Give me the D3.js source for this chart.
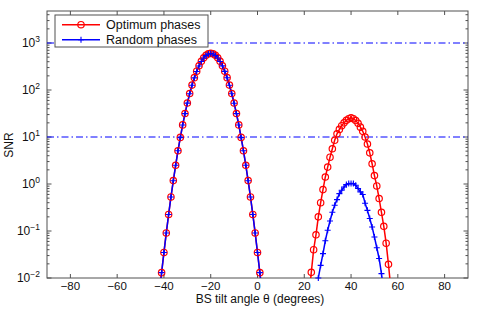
<!DOCTYPE html>
<html>
<head>
<meta charset="utf-8">
<script src="https://cdn.jsdelivr.net/npm/d3@7"></script>
<style>
body { margin: 0; background: white; }
text { font-family: "Liberation Sans", Arial, sans-serif; fill: #111; }
</style>
</head>
<body>
<script>
//properties of the screen
var widthScr = 491;
var heightScr = 311;
var plotL = 47, plotR = 468, plotT = 11, plotB = 278;
var axisColor = "#505050";

//optimum phases (degrees, SNR)
var optAngles = [-42, -41, -40, -39, -38, -37, -36, -35, -34, -33, -32, -31, -30, -29, -28, -27, -26, -25, -24, -23, -22, -21,
    -20, -19, -18, -17, -16, -15, -14, -13, -12, -11, -10, -9, -8, -7, -6, -5, -4, -3, -2, -1, 0, 1, 2,
    22, 23, 24, 25, 26, 27, 28, 29, 30, 31, 32, 33, 34, 35, 36, 37, 38, 39,
    40, 41, 42, 43, 44, 45, 46, 47, 48, 49, 50, 51, 52, 53, 54, 55, 56, 57];
var optSnr = [0.0046, 0.013, 0.035, 0.091, 0.225, 0.53, 1.18, 2.5, 5.1, 9.8, 18.1, 31.6, 52.7, 84, 127, 183, 251, 328, 408, 484, 547, 587,
    603, 587, 547, 484, 408, 328, 251, 183, 127, 84, 52.7, 31.6, 18.1, 9.8, 5.1, 2.5, 1.18, 0.53, 0.225, 0.091, 0.035, 0.013, 0.0046,
    0.004, 0.0132, 0.040, 0.083, 0.20, 0.40, 0.76, 1.41, 2.29, 3.72, 5.62, 8.5, 11.7, 14.5, 17.4, 20.0, 22.6, 24.5,
    25.7, 24.5, 22.4, 19.5, 16.2, 13.2, 10.0, 7.1, 4.6, 2.7, 1.51, 0.91, 0.49, 0.25, 0.126, 0.055, 0.0195, 0.006];

//random phases (degrees, SNR)
var randAngles = [-42, -41, -40, -39, -38, -37, -36, -35, -34, -33, -32, -31, -30, -29, -28, -27, -26, -25, -24, -23, -22, -21,
    -20, -19, -18, -17, -16, -15, -14, -13, -12, -11, -10, -9, -8, -7, -6, -5, -4, -3, -2, -1, 0, 1, 2,
    25, 26, 27, 28, 29, 30, 31, 32, 33, 34, 35, 36, 37, 38, 39,
    40, 41, 42, 43, 44, 45, 46, 47, 48, 49, 50, 51, 52, 53, 54];
var randSnr = [0.0046, 0.013, 0.035, 0.091, 0.224, 0.53, 1.17, 2.5, 5.1, 9.7, 18.0, 31.4, 52.5, 83, 126, 181, 248, 325, 404, 478, 540, 580,
    598, 582, 543, 480, 405, 326, 249, 182, 126, 83, 52.4, 31.4, 18.0, 9.7, 5.1, 2.5, 1.17, 0.53, 0.224, 0.091, 0.035, 0.013, 0.0046,
    0.005, 0.010, 0.0186, 0.033, 0.062, 0.104, 0.163, 0.25, 0.352, 0.466, 0.625, 0.735, 0.863, 0.97, 1.02,
    1.02, 1.02, 0.94, 0.80, 0.68, 0.60, 0.39, 0.275, 0.184, 0.122, 0.0745, 0.044, 0.026, 0.0124, 0.005];

//reference levels and ticks
var thresholds = [1000, 10];
var xTicks = [-80, -60, -40, -20, 0, 20, 40, 60, 80];
var yTicks = [0.01, 0.1, 1, 10, 100, 1000];
var yExponents = ["\u22122", "\u22121", "0", "1", "2", "3"];
var legendLabels = ["Optimum phases", "Random phases"];

var svg, x, y;

function start() {
    createScreen();
    createAxes();
    createLines();
    createLegend();
}

//setup canvas and scales
function createScreen() {
    svg = d3.select("body").append("svg")
        .attr("width", widthScr)
        .attr("height", heightScr);

    svg.append("rect")
        .attr("width", widthScr)
        .attr("height", heightScr)
        .attr("fill", "white");

    x = d3.scaleLinear().domain([-90, 90]).range([plotL, plotR]);
    y = d3.scaleLog().domain([0.01, Math.pow(10, 3 + 32 / 47)]).range([plotB, plotT]);

    svg.append("clipPath").attr("id", "plotClip")
        .append("rect")
        .attr("x", plotL).attr("y", plotT)
        .attr("width", plotR - plotL).attr("height", plotB - plotT);
}

//box, ticks and labels
function createAxes() {
    var g = svg.append("g");

    //major x ticks, bottom and top, pointing inward
    xTicks.forEach(function(t) {
        g.append("line").attr("x1", x(t)).attr("x2", x(t)).attr("y1", plotB).attr("y2", plotB - 4)
            .attr("stroke", axisColor);
        g.append("line").attr("x1", x(t)).attr("x2", x(t)).attr("y1", plotT).attr("y2", plotT + 4)
            .attr("stroke", axisColor);
        g.append("text")
            .attr("x", x(t))
            .attr("y", 290)
            .attr("text-anchor", "middle")
            .attr("font-size", 11.5)
            .text(t < 0 ? "\u2212" + Math.abs(t) : t);
    });

    //log y ticks: major and minor, left and right
    var minor = [];
    for (var e = -2; e < 4; e++) {
        for (var m = 2; m < 10; m++) minor.push(m * Math.pow(10, e));
    }
    minor = minor.filter(function(v) { return v < y.domain()[1]; });
    minor.forEach(function(v) {
        g.append("line").attr("x1", plotL).attr("x2", plotL + 2.5).attr("y1", y(v)).attr("y2", y(v))
            .attr("stroke", axisColor);
        g.append("line").attr("x1", plotR).attr("x2", plotR - 2.5).attr("y1", y(v)).attr("y2", y(v))
            .attr("stroke", axisColor);
    });
    yTicks.forEach(function(v, i) {
        g.append("line").attr("x1", plotL).attr("x2", plotL + 4.5).attr("y1", y(v)).attr("y2", y(v))
            .attr("stroke", axisColor);
        g.append("line").attr("x1", plotR).attr("x2", plotR - 4.5).attr("y1", y(v)).attr("y2", y(v))
            .attr("stroke", axisColor);
        var label = g.append("text")
            .attr("x", 40)
            .attr("y", y(v) + 4)
            .attr("text-anchor", "end")
            .attr("font-size", 12);
        label.append("tspan").text("10");
        label.append("tspan")
            .attr("dy", -5)
            .attr("font-size", 8.5)
            .text(yExponents[i]);
    });

    //frame
    g.append("rect")
        .attr("x", plotL).attr("y", plotT)
        .attr("width", plotR - plotL).attr("height", plotB - plotT)
        .attr("fill", "none")
        .attr("stroke", axisColor);

    g.append("text")
        .attr("x", 260)
        .attr("y", 302.5)
        .attr("text-anchor", "middle")
        .attr("font-size", 12)
        .text("BS tilt angle \u03b8 (degrees)");

    g.append("text")
        .attr("transform", "translate(13,145) rotate(-90)")
        .attr("text-anchor", "middle")
        .attr("font-size", 12)
        .text("SNR");
}

//curves, markers and dash-dot levels
function createLines() {
    var plot = svg.append("g").attr("clip-path", "url(#plotClip)");

    plot.selectAll(".level")
        .data(thresholds)
        .enter().append("line")
        .attr("class", "level")
        .attr("x1", plotL).attr("x2", plotR)
        .attr("y1", function(d) { return y(d); })
        .attr("y2", function(d) { return y(d); })
        .attr("stroke", "#0000ff")
        .attr("stroke-width", 1)
        .attr("stroke-dasharray", "7,3,1.5,3");

    var line = d3.line()
        .x(function(d) { return x(d[0]); })
        .y(function(d) { return y(d[1]); });

    var opt = d3.zip(optAngles, optSnr);
    var rand = d3.zip(randAngles, randSnr);

    plot.append("path")
        .attr("d", line(opt))
        .attr("fill", "none")
        .attr("stroke", "#ff0000")
        .attr("stroke-width", 1.5);

    svg.selectAll(".optMark")
        .data(opt.filter(function(d) { return d[1] >= 0.0099; }))
        .enter().append("circle")
        .attr("class", "optMark")
        .attr("cx", function(d) { return x(d[0]); })
        .attr("cy", function(d) { return y(d[1]); })
        .attr("r", 3.2)
        .attr("fill", "none")
        .attr("stroke", "#ff0000")
        .attr("stroke-width", 1.2);

    plot.append("path")
        .attr("d", line(rand))
        .attr("fill", "none")
        .attr("stroke", "#0000ff")
        .attr("stroke-width", 1.5);

    svg.selectAll(".randMark")
        .data(rand.filter(function(d) { return d[1] >= 0.0099; }))
        .enter().append("path")
        .attr("class", "randMark")
        .attr("transform", function(d) { return "translate(" + x(d[0]) + "," + y(d[1]) + ")"; })
        .attr("d", "M-3,0H3M0,-3V3")
        .attr("stroke", "#0000ff")
        .attr("stroke-width", 1.1);
}

//legend box in the upper left corner
function createLegend() {
    var lg = svg.append("g");
    lg.append("rect")
        .attr("x", 55).attr("y", 15)
        .attr("width", 153).attr("height", 32)
        .attr("fill", "white")
        .attr("stroke", axisColor);

    var colors = ["#ff0000", "#0000ff"];
    legendLabels.forEach(function(label, i) {
        var yy = 24.7 + i * 15;
        lg.append("line")
            .attr("x1", 62).attr("x2", 100)
            .attr("y1", yy).attr("y2", yy)
            .attr("stroke", colors[i])
            .attr("stroke-width", 1.5);
        if (i === 0) {
            lg.append("circle").attr("cx", 81).attr("cy", yy).attr("r", 3.2)
                .attr("fill", "none").attr("stroke", colors[i]).attr("stroke-width", 1.2);
        } else {
            lg.append("path").attr("transform", "translate(81," + yy + ")")
                .attr("d", "M-3,0H3M0,-3V3").attr("stroke", colors[i]).attr("stroke-width", 1.1);
        }
        lg.append("text")
            .attr("x", 106)
            .attr("y", yy + 4.5)
            .attr("font-size", 12.5)
            .text(label);
    });
}

start();
</script>
</body>
</html>
